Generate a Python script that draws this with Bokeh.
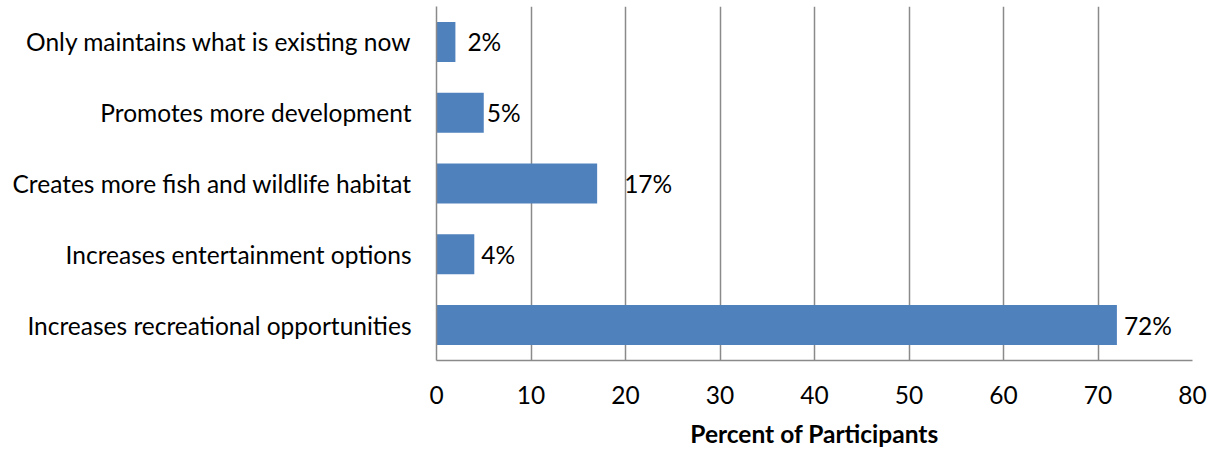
from bokeh.plotting import figure
from bokeh.models import Range1d, FixedTicker, ColumnDataSource
from bokeh.embed import file_html
from bokeh.resources import INLINE
from bokeh.core.properties import value

# ---- data (bottom to top) ----
categories = [
    "Increases recreational opportunities",
    "Increases entertainment options",
    "Creates more fish and wildlife habitat",
    "Promotes more development",
    "Only maintains what is existing now",
]
percents = [72, 4, 17, 5, 2]
value_labels = ["72%", "4%", "17%", "5%", "2%"]
x_ticks = [0, 10, 20, 30, 40, 50, 60, 70, 80]
x_title = "Percent of Participants"

# ---- styling ----
label_offsets = [7, 7, 27, 3, 12]   # pixel offsets of the data labels
FONT = "Lato"
FS = "24.5px"
GRID = "#8a8a8a"
BAR = "#4F81BD"

positions = list(range(len(categories)))
src = ColumnDataSource(dict(y=positions, v=percents, lab=value_labels, off=label_offsets))

p = figure(width=1210, height=450, output_backend="svg", toolbar_location=None,
           x_range=Range1d(0, 80), y_range=Range1d(-0.5, 4.5),
           min_border_left=436, min_border_right=18, min_border_top=6, min_border_bottom=90)
p.outline_line_color = None
p.background_fill_color = "white"
p.border_fill_color = "white"

p.hbar(y="y", right="v", left=0, height=0.565, source=src, color=BAR, line_color=None)
p.text(x="v", y="y", text="lab", x_offset="off", source=src, text_align="left",
       text_baseline="middle", text_font=value(FONT), text_font_size=FS, text_color="black")

# x axis
p.xaxis.ticker = FixedTicker(ticks=x_ticks)
p.xaxis.axis_line_color = GRID
p.xaxis.axis_line_width = 1.5
p.xaxis.major_tick_line_color = None
p.xaxis.minor_tick_line_color = None
p.xaxis.major_label_standoff = 19
p.xaxis.major_label_text_font = FONT
p.xaxis.major_label_text_font_size = FS
p.xaxis.major_label_text_color = "black"
p.xaxis.axis_label = x_title
p.xaxis.axis_label_text_font = FONT
p.xaxis.axis_label_text_font_size = FS
p.xaxis.axis_label_text_font_style = "bold"
p.xaxis.axis_label_text_color = "black"
p.xaxis.axis_label_standoff = 12

# y axis
p.yaxis.ticker = FixedTicker(ticks=positions)
p.yaxis.major_label_overrides = {i: c for i, c in zip(positions, categories)}
p.yaxis.axis_line_color = GRID
p.yaxis.axis_line_width = 1.5
p.yaxis.major_tick_line_color = None
p.yaxis.minor_tick_line_color = None
p.yaxis.major_label_standoff = 19
p.yaxis.major_label_text_font = FONT
p.yaxis.major_label_text_font_size = FS
p.yaxis.major_label_text_color = "black"

p.xgrid.grid_line_color = GRID
p.xgrid.grid_line_width = 1.5
p.ygrid.grid_line_color = None

open("out.html", "w").write(file_html(p, INLINE))
